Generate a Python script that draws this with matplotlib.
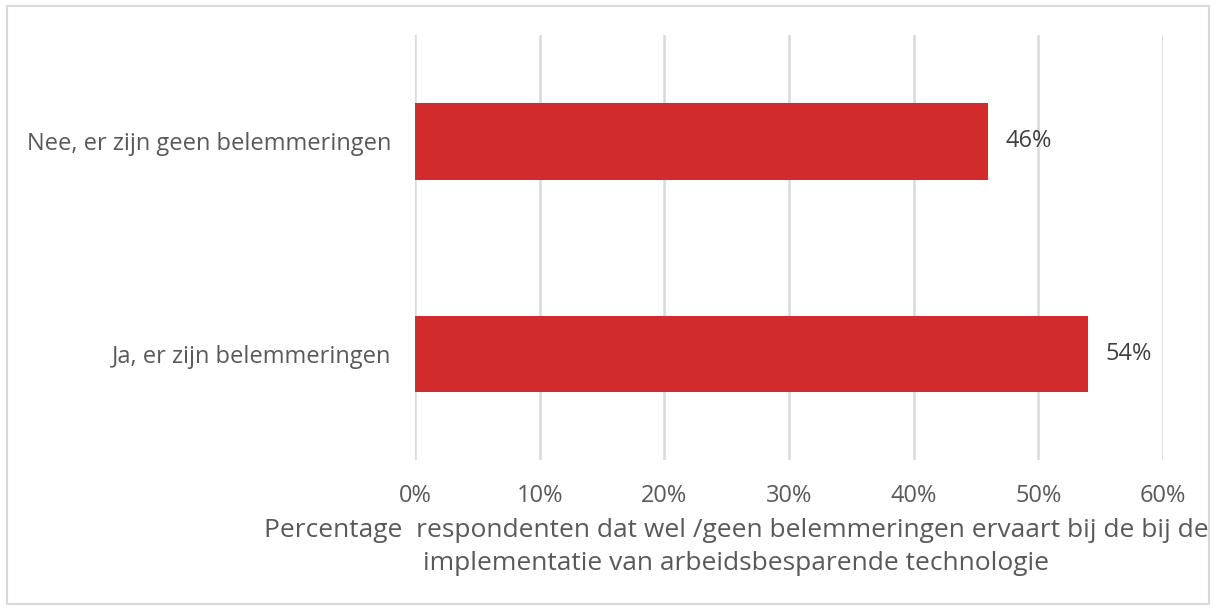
import matplotlib.pyplot as plt
from matplotlib.patches import Rectangle

# survey answers, bottom to top
categories = ["Ja, er zijn belemmeringen", "Nee, er zijn geen belemmeringen"]
shares = [54, 46]
ticks = [0, 10, 20, 30, 40, 50, 60]

plt.rcParams['font.family'] = ['Open Sans', 'DejaVu Sans']

fig = plt.figure(figsize=(12.16, 6.1), dpi=100)
ax = fig.add_axes([415 / 1216, 1 - 460 / 610, 748 / 1216, 425 / 610])

ypos = list(range(len(categories)))
ax.barh(ypos, shares, height=0.36, color="#D22B2B", zorder=3)
for y, v in zip(ypos, shares):
    ax.text(v + 1.35, y, f"{v}%", va="center", ha="left", fontsize=17, color="#404040")

ax.set_xlim(0, 60)
ax.set_ylim(-0.5, 1.5)
ax.set_xticks(ticks)
ax.set_xticklabels([f"{t}%" for t in ticks])
ax.set_yticks(ypos)
ax.set_yticklabels(categories)
ax.tick_params(axis="both", length=0, labelsize=17, labelcolor="#595959")
ax.tick_params(axis="x", pad=17)
ax.tick_params(axis="y", pad=17)
ax.grid(axis="x", color="#D9D9D9", linewidth=1.8, zorder=0)
for s in ax.spines.values():
    s.set_visible(False)

fig.text(736 / 1216, 1 - 547 / 610,
         "Percentage  respondenten dat wel /geen belemmeringen ervaart bij de bij de\n"
         "implementatie van arbeidsbesparende technologie",
         ha="center", va="center", fontsize=19, color="#595959", linespacing=1.42)

# light frame around the chart area
fig.patches.append(Rectangle((7 / 1216, 6 / 610), 1202 / 1216, 598 / 610,
                             transform=fig.transFigure, fill=False,
                             edgecolor="#D9D9D9", linewidth=1.5))

fig.savefig("out.png", dpi=100)
